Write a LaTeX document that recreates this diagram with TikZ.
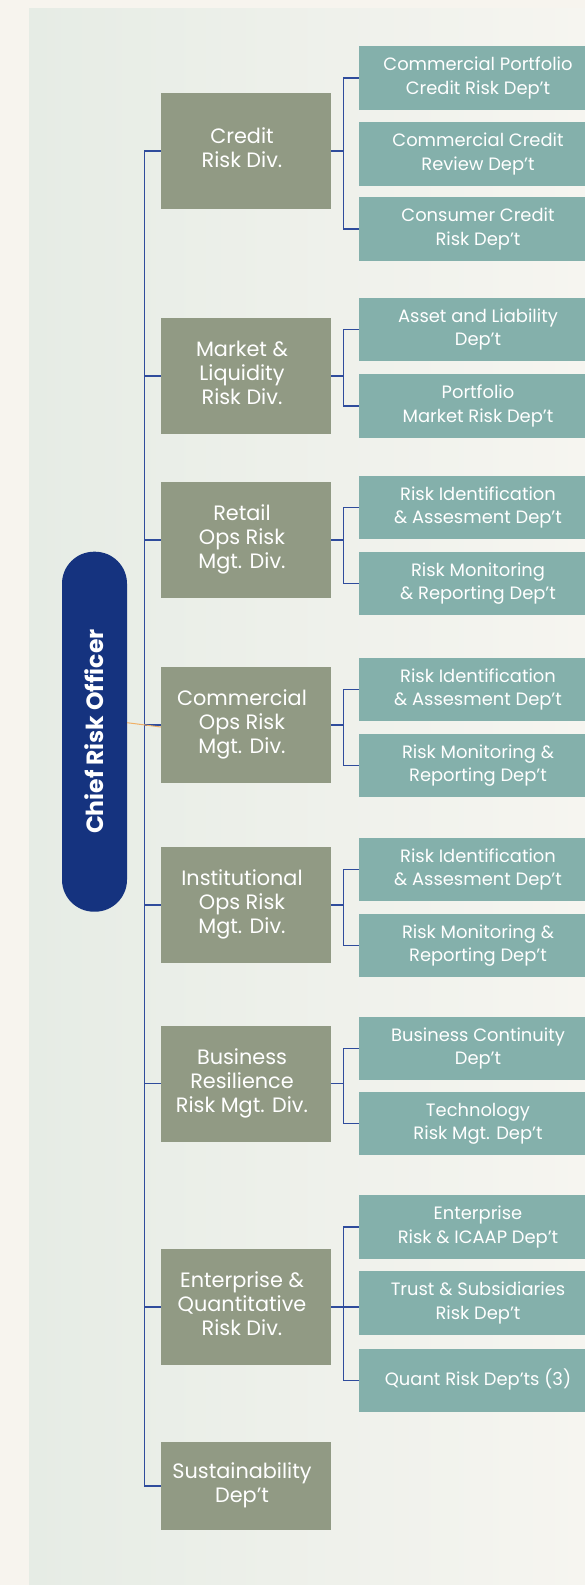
\documentclass[tikz,border=0pt]{standalone}
\usepackage{fontspec}
\setmainfont{Poppins}
\definecolor{outerbg}{HTML}{F7F4EE}
\definecolor{panelL}{HTML}{E6ECE5}
\definecolor{panelR}{HTML}{F6F5F0}
\definecolor{divc}{HTML}{919A84}
\definecolor{deptc}{HTML}{84B0AB}
\definecolor{linec}{HTML}{2F4C9C}
\definecolor{croc}{HTML}{15337F}
\definecolor{orangec}{HTML}{F0B066}
\newcommand\divtext[2]{\kern-8pt\raisebox{#1pt}{\begin{tabular}{@{}c@{}}#2\end{tabular}}}
\newcommand\depttext[2]{\raisebox{#1pt}{\begin{tabular}{@{}c@{}}#2\end{tabular}}}
\tikzset{
  divbox/.style={fill=divc, minimum width=170pt, minimum height=116pt, inner sep=0pt,
    text=white, font=\fontsize{20.8}{24}\selectfont},
  deptbox/.style={fill=deptc, minimum width=238pt, minimum height=63.5pt, inner sep=0pt,
    text=white, font=\fontsize{17.9}{23.4}\selectfont},
  link/.style={draw=linec, line width=1.3pt},
  crolink/.style={draw=orangec, line width=1pt},
  crobox/.style={fill=croc, rounded corners=32pt, minimum width=360pt, minimum height=65pt,
    inner sep=0pt, text=white, font=\fontsize{23.5}{28}\selectfont\bfseries}
}
\begin{document}
\begin{tikzpicture}[x=1pt,y=-1pt]
\useasboundingbox (0,0) rectangle (585,1585);
\clip (0,0) rectangle (585,1585);
\fill[outerbg] (0,0) rectangle (585,1585);
\shade[left color=panelL, right color=panelR] (29,8) rectangle (585,1585);

% CRO
\node[crobox, rotate=90] (cro) at (94.5,731.7) {Chief Risk Officer};

% divisions
\node[divbox] (d1) at (246,151) {\divtext{2.5}{Credit\\Risk Div.}};
\node[divbox] (d2) at (246,376) {\divtext{4}{Market \&\\Liquidity\\Risk Div.}};
\node[divbox] (d3) at (246,540) {\divtext{6.5}{Retail\\Ops Risk\\Mgt. Div.}};
\node[divbox] (d4) at (246,725) {\divtext{4}{Commercial\\Ops Risk\\Mgt. Div.}};
\node[divbox] (d5) at (246,905) {\divtext{6}{Institutional\\Ops Risk\\Mgt. Div.}};
\node[divbox] (d6) at (246,1083.5) {\divtext{0.5}{Business\\Resilience\\Risk Mgt. Div.}};
\node[divbox] (d7) at (246,1307) {\divtext{3}{Enterprise \&\\Quantitative\\Risk Div.}};
\node[divbox, minimum height=87.5pt] (d8) at (246,1486) {\divtext{0}{Sustainability\\Dep’t}};

% departments
\node[deptbox] (a1) at (478,78) {\depttext{0}{Commercial Portfolio\\Credit Risk Dep’t}};
\node[deptbox] (a2) at (478,154) {\depttext{0}{Commercial Credit\\Review Dep’t}};
\node[deptbox] (a3) at (478,229) {\depttext{0}{Consumer Credit\\Risk Dep’t}};
\node[deptbox] (b1) at (478,329.5) {\depttext{0}{Asset and Liability\\Dep’t}};
\node[deptbox] (b2) at (478,406) {\depttext{0}{Portfolio\\Market Risk Dep’t}};
\node[deptbox] (c1) at (478,507.5) {\depttext{3}{Risk Identification\\\& Assesment Dep’t}};
\node[deptbox] (c2) at (478,583.5) {\depttext{3}{Risk Monitoring\\\& Reporting Dep’t}};
\node[deptbox] (e1) at (478,689.5) {\depttext{0}{Risk Identification\\\& Assesment Dep’t}};
\node[deptbox] (e2) at (478,765.5) {\depttext{0}{Risk Monitoring \&\\Reporting Dep’t}};
\node[deptbox] (f1) at (478,869.5) {\depttext{0}{Risk Identification\\\& Assesment Dep’t}};
\node[deptbox] (f2) at (478,945.5) {\depttext{0}{Risk Monitoring \&\\Reporting Dep’t}};
\node[deptbox] (g1) at (478,1048.5) {\depttext{0}{Business Continuity\\Dep’t}};
\node[deptbox] (g2) at (478,1123.5) {\depttext{3.5}{Technology\\Risk Mgt. Dep’t}};
\node[deptbox] (h1) at (478,1227) {\depttext{0}{Enterprise\\Risk \& ICAAP Dep’t}};
\node[deptbox] (h2) at (478,1303) {\depttext{0}{Trust \& Subsidiaries\\Risk Dep’t}};
\node[deptbox] (h3) at (478,1380.5) {\depttext{0}{Quant Risk Dep’ts (3)}};

% trunk
\draw[link] (d1.west) -- ++(-16.5,0) |- (d8.west);
\foreach \n in {d2,d3,d4,d5,d6,d7} \draw[link] (\n.west) -- ++(-16.5,0);

% brackets
\draw[link] (a1.west) -- ++(-15,0) |- (a3.west);
\draw[link] (d1.east) -- ([xshift=-15pt]d1.east -| a1.west);
\draw[link] (b1.west) -- ++(-15,0) |- (b2.west);
\draw[link] (d2.east) -- ([xshift=-15pt]d2.east -| b1.west);
\draw[link] (c1.west) -- ++(-15,0) |- (c2.west);
\draw[link] (d3.east) -- ([xshift=-15pt]d3.east -| c1.west);
\draw[link] (e1.west) -- ++(-15,0) |- (e2.west);
\draw[link] (d4.east) -- ([xshift=-15pt]d4.east -| e1.west);
\draw[link] (f1.west) -- ++(-15,0) |- (f2.west);
\draw[link] (d5.east) -- ([xshift=-15pt]d5.east -| f1.west);
\draw[link] (g1.west) -- ++(-15,0) |- (g2.west);
\draw[link] (d6.east) -- ([xshift=-15pt]d6.east -| g1.west);
\draw[link] (h1.west) -- ++(-15,0) |- (h3.west);
\draw[link] (d7.east) -- (d7.east -| h2.west);

% CRO link
\draw[crolink] ([yshift=9pt]cro.south) -- ([yshift=-2pt]d4.west);
\end{tikzpicture}
\end{document}
